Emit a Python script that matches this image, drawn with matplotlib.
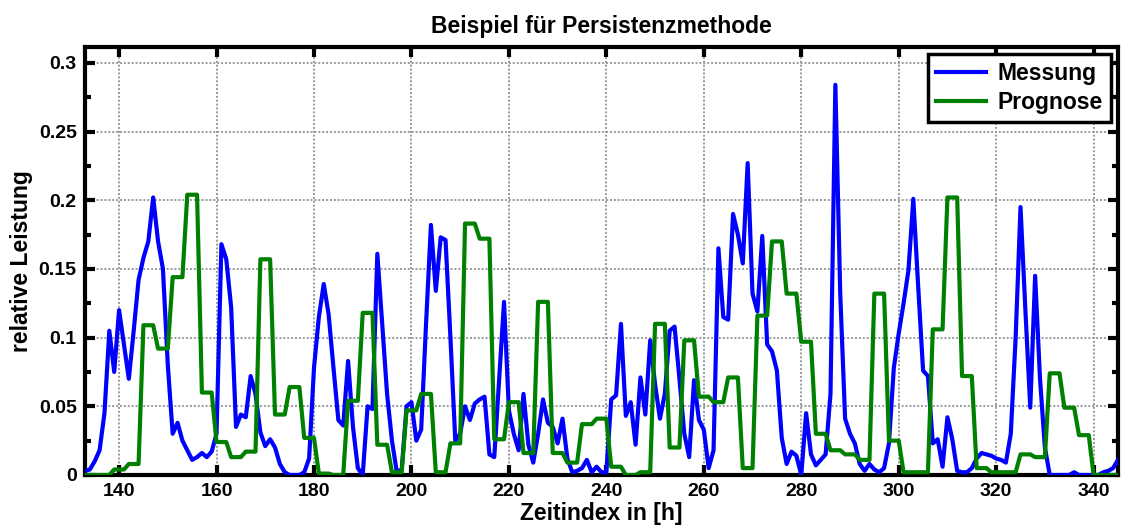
# Beispiel fuer Persistenzmethode: Messung vs. Prognose (stundenweise)
import numpy as np
import matplotlib
matplotlib.use('Agg')
import matplotlib.pyplot as plt
from matplotlib.ticker import MultipleLocator, FormatStrFormatter

plt.rcParams['font.family'] = ['Liberation Sans', 'DejaVu Sans']
plt.rcParams['font.weight'] = 'bold'

# Zeitindex in Stunden
t_start = 133
t_end = 345

# Messung, hourly values 133..345
messung = [
    0.003, 0.004, 0.010, 0.018, 0.045, 0.105, 0.075, 0.120, 0.095, 0.070,
    0.105, 0.142, 0.158, 0.170, 0.202, 0.170, 0.150, 0.080, 0.030, 0.038,
    0.025, 0.018, 0.011, 0.013, 0.016, 0.013, 0.017, 0.030, 0.168, 0.157,
    0.122, 0.035, 0.044, 0.042, 0.072, 0.059, 0.031, 0.021, 0.026, 0.020,
    0.008, 0.002, 0.000, 0.000, 0.000, 0.002, 0.012, 0.078, 0.115, 0.139,
    0.117, 0.078, 0.040, 0.036, 0.083, 0.035, 0.005, 0.000, 0.050, 0.048,
    0.161, 0.110, 0.059, 0.025, 0.002, 0.004, 0.050, 0.053, 0.025, 0.033,
    0.110, 0.182, 0.134, 0.173, 0.171, 0.100, 0.025, 0.030, 0.050, 0.040,
    0.052, 0.055, 0.057, 0.015, 0.013, 0.070, 0.126, 0.047, 0.030, 0.018,
    0.059, 0.022, 0.009, 0.030, 0.055, 0.038, 0.035, 0.023, 0.041, 0.012,
    0.002, 0.003, 0.005, 0.011, 0.002, 0.006, 0.002, 0.002, 0.055, 0.058,
    0.110, 0.043, 0.053, 0.022, 0.071, 0.044, 0.098, 0.066, 0.041, 0.059,
    0.105, 0.108, 0.070, 0.030, 0.013, 0.069, 0.040, 0.033, 0.005, 0.018,
    0.165, 0.115, 0.113, 0.190, 0.175, 0.154, 0.227, 0.132, 0.119, 0.174,
    0.095, 0.090, 0.076, 0.027, 0.008, 0.017, 0.014, 0.000, 0.045, 0.015,
    0.007, 0.011, 0.015, 0.059, 0.284, 0.132, 0.041, 0.030, 0.023, 0.008,
    0.003, 0.008, 0.004, 0.002, 0.005, 0.023, 0.078, 0.103, 0.125, 0.149,
    0.201, 0.137, 0.076, 0.072, 0.023, 0.026, 0.006, 0.042, 0.026, 0.003,
    0.002, 0.002, 0.005, 0.012, 0.016, 0.015, 0.014, 0.012, 0.011, 0.009,
    0.030, 0.100, 0.195, 0.120, 0.049, 0.145, 0.070, 0.020, 0.000, 0.000,
    0.000, 0.000, 0.000, 0.002, 0.000, 0.000, 0.000, 0.000, 0.000, 0.002,
    0.003, 0.005, 0.011,
]

# Prognose, hourly values 133..345 (3-hour steps)
prognose = [
    0.000, 0.000, 0.000,  0.000, 0.000, 0.000,  0.004, 0.004, 0.004,
    0.008, 0.008, 0.008,  0.109, 0.109, 0.109,  0.092, 0.092, 0.092,
    0.144, 0.144, 0.144,  0.204, 0.204, 0.204,  0.060, 0.060, 0.060,
    0.024, 0.024, 0.024,  0.013, 0.013, 0.013,  0.017, 0.017, 0.017,
    0.157, 0.157, 0.157,  0.044, 0.044, 0.044,  0.064, 0.064, 0.064,
    0.027, 0.027, 0.027,  0.001, 0.001, 0.001,  0.000, 0.000, 0.000,
    0.054, 0.054, 0.054,  0.118, 0.118, 0.118,  0.022, 0.022, 0.022,
    0.002, 0.002, 0.002,  0.047, 0.047, 0.047,  0.059, 0.059, 0.059,
    0.002, 0.002, 0.002,  0.023, 0.023, 0.023,  0.183, 0.183, 0.183,
    0.172, 0.172, 0.172,  0.026, 0.026, 0.026,  0.053, 0.053, 0.053,
    0.016, 0.016, 0.016,  0.126, 0.126, 0.126,  0.016, 0.016, 0.016,
    0.009, 0.009, 0.009,  0.037, 0.037, 0.037,  0.041, 0.041, 0.041,
    0.006, 0.006, 0.006,  0.000, 0.000, 0.000,  0.002, 0.002, 0.002,
    0.110, 0.110, 0.110,  0.020, 0.020, 0.020,  0.098, 0.098, 0.098,
    0.057, 0.057, 0.057,  0.053, 0.053, 0.053,  0.071, 0.071, 0.071,
    0.005, 0.005, 0.005,  0.116, 0.116, 0.116,  0.170, 0.170, 0.170,
    0.132, 0.132, 0.132,  0.097, 0.097, 0.097,  0.030, 0.030, 0.030,
    0.018, 0.018, 0.018,  0.015, 0.015, 0.015,  0.011, 0.011, 0.011,
    0.132, 0.132, 0.132,  0.025, 0.025, 0.025,  0.002, 0.002, 0.002,
    0.002, 0.002, 0.002,  0.106, 0.106, 0.106,  0.202, 0.202, 0.202,
    0.072, 0.072, 0.072,  0.005, 0.005, 0.005,  0.002, 0.002, 0.002,
    0.002, 0.002, 0.002,  0.015, 0.015, 0.015,  0.013, 0.013, 0.013,
    0.074, 0.074, 0.074,  0.049, 0.049, 0.049,  0.029, 0.029, 0.029,
    0.000, 0.000, 0.000,  0.000, 0.000, 0.000,
]

zeit = np.arange(t_start, t_end + 1)

fig = plt.figure(figsize=(11.21, 5.30), dpi=100)
ax = fig.add_axes([0.0758, 0.1038, 0.9215, 0.8075])

ax.plot(zeit, messung, color=(0, 0, 1), lw=3.0, label='Messung', zorder=3)
ax.plot(zeit, prognose, color=(0, 0.5, 0), lw=3.0, label='Prognose', zorder=3)

ax.set_xlim(zeit[0], zeit[-1])
ax.set_ylim(0, 0.3115)

ax.xaxis.set_major_locator(MultipleLocator(20))
ax.yaxis.set_major_locator(MultipleLocator(0.05))
ax.yaxis.set_minor_locator(MultipleLocator(0.025))
ax.yaxis.set_major_formatter(FormatStrFormatter('%g'))

ax.tick_params(which='both', direction='in', top=True, right=True,
               labelsize=14, pad=6)
ax.tick_params(which='major', length=7, width=3)
ax.tick_params(which='minor', length=4, width=3)
for lbl in ax.get_xticklabels() + ax.get_yticklabels():
    lbl.set_fontweight('bold')

for sp in ax.spines.values():
    sp.set_linewidth(3)

ax.grid(True, which='major', color='#9a9a9a', linestyle=(0, (1, 1)), lw=1.4)
ax.set_axisbelow(True)

ax.set_title('Beispiel für Persistenzmethode', fontsize=16.5, fontweight='bold', pad=10)
ax.set_xlabel('Zeitindex in [h]', fontsize=16.5, fontweight='bold', labelpad=1)
ax.set_ylabel('relative Leistung', fontsize=16.5, fontweight='bold', labelpad=4)

leg = ax.legend(loc='upper right', fontsize=16.5, frameon=True, fancybox=False,
                edgecolor='black', framealpha=1, borderpad=0.35, labelspacing=0.25,
                handlelength=2.2, handletextpad=0.5, borderaxespad=0.3)
leg.get_frame().set_linewidth(2.5)
for txt in leg.get_texts():
    txt.set_fontweight('bold')

fig.savefig('out.png', dpi=100)
